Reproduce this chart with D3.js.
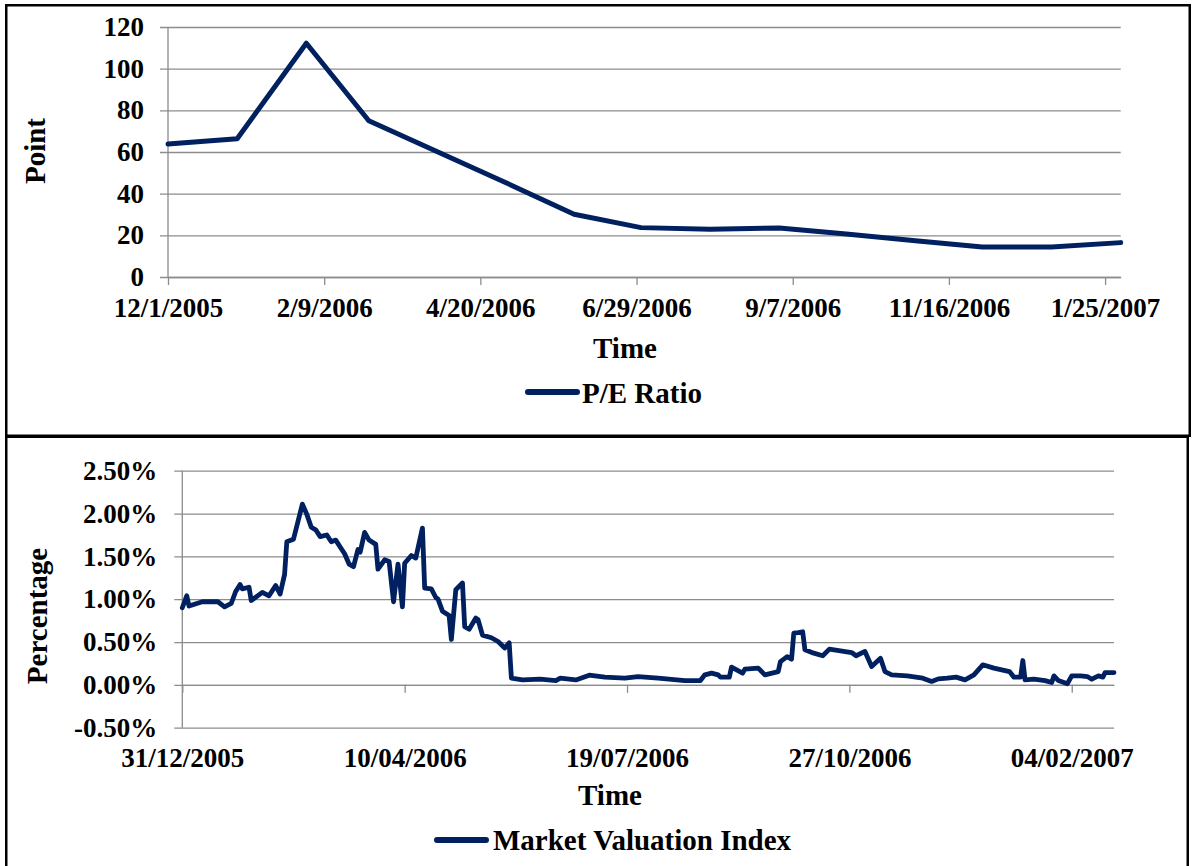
<!DOCTYPE html>
<html>
<head>
<meta charset="utf-8">
<script src="https://cdn.jsdelivr.net/npm/d3@7"></script>
<style>
  html, body { margin: 0; padding: 0; background: #fff; }
  svg { display: block; }
  text { font-family: "Liberation Serif", Tinos, "Times New Roman", Times, "DejaVu Serif", serif; font-weight: 700; fill: #000; }
</style>
</head>
<body>
<svg id="chart" width="1194" height="866"></svg>
<script>
// ---- P/E ratio, monthly ----
const peDates = ["2005-12-01","2006-01-01","2006-02-01","2006-03-01","2006-04-01","2006-05-01",
  "2006-06-01","2006-07-01","2006-08-01","2006-09-01","2006-10-01","2006-11-01","2006-12-01",
  "2007-01-01","2007-02-01"];
const peValues = [63.8, 66.4, 112.2, 75.0, 60.0, 45.5, 30.1, 23.7, 22.9, 23.5, 20.6, 17.4, 14.4, 14.4, 16.5];
const peYTicks = [0, 20, 40, 60, 80, 100, 120];
const peXTicks = ["2005-12-01","2006-02-09","2006-04-20","2006-06-29","2006-09-07","2006-11-16","2007-01-25"];
const peXLabels = ["12/1/2005","2/9/2006","4/20/2006","6/29/2006","9/7/2006","11/16/2006","1/25/2007"];

// ---- Market valuation index, daily (%) ----
const mviDates = [
  "2005-12-31","2006-01-02","2006-01-03","2006-01-09","2006-01-16","2006-01-19","2006-01-22","2006-01-24",
  "2006-01-26","2006-01-27","2006-01-30","2006-01-31",
  "2006-02-05","2006-02-08","2006-02-11","2006-02-13","2006-02-15","2006-02-16","2006-02-19","2006-02-23",
  "2006-02-25","2006-02-27",
  "2006-03-01","2006-03-03","2006-03-06","2006-03-08","2006-03-10","2006-03-12","2006-03-14","2006-03-16",
  "2006-03-18","2006-03-20","2006-03-21","2006-03-23","2006-03-25","2006-03-28","2006-03-29",
  "2006-04-01","2006-04-03","2006-04-05","2006-04-07","2006-04-09","2006-04-10","2006-04-13","2006-04-15",
  "2006-04-18","2006-04-19","2006-04-22","2006-04-24","2006-04-25","2006-04-27","2006-04-30",
  "2006-05-01","2006-05-03","2006-05-06","2006-05-07","2006-05-09","2006-05-12","2006-05-13","2006-05-15",
  "2006-05-19","2006-05-22","2006-05-25","2006-05-27","2006-05-28",
  "2006-06-02","2006-06-10","2006-06-17","2006-06-19","2006-06-26",
  "2006-07-02","2006-07-09","2006-07-18","2006-07-24",
  "2006-08-02","2006-08-14","2006-08-21","2006-08-23","2006-08-26","2006-08-29","2006-08-30",
  "2006-09-03","2006-09-04","2006-09-09","2006-09-10","2006-09-16","2006-09-19","2006-09-25","2006-09-26",
  "2006-09-29",
  "2006-10-01","2006-10-02","2006-10-04","2006-10-06","2006-10-07","2006-10-11","2006-10-15","2006-10-18",
  "2006-10-28","2006-10-30",
  "2006-11-03","2006-11-06","2006-11-10","2006-11-12","2006-11-15","2006-11-22","2006-11-29",
  "2006-12-03","2006-12-06","2006-12-10","2006-12-14","2006-12-18","2006-12-22","2006-12-26","2006-12-31",
  "2007-01-07","2007-01-09","2007-01-12","2007-01-13","2007-01-14","2007-01-18","2007-01-23","2007-01-26",
  "2007-01-27","2007-01-29",
  "2007-02-02","2007-02-04","2007-02-08","2007-02-11","2007-02-13","2007-02-16","2007-02-18","2007-02-19",
  "2007-02-23"];
const mviValues = [
  0.90, 1.04, 0.92, 0.97, 0.97, 0.91, 0.95, 1.09, 1.17, 1.12, 1.14, 0.985,
  1.08, 1.04, 1.16, 1.06, 1.29, 1.67, 1.70, 2.11, 1.99, 1.84,
  1.81, 1.73, 1.75, 1.67, 1.69, 1.61, 1.53, 1.41, 1.38, 1.58, 1.55, 1.78, 1.69, 1.64, 1.35,
  1.46, 1.44, 0.97, 1.41, 0.91, 1.42, 1.51, 1.48, 1.83, 1.13, 1.12, 1.02, 1.00, 0.86, 0.81,
  0.53, 1.11, 1.19, 0.68, 0.65, 0.78, 0.76, 0.58, 0.55, 0.506, 0.43, 0.49, 0.078,
  0.058, 0.066, 0.05, 0.078, 0.058,
  0.113, 0.09, 0.078, 0.097,
  0.078, 0.05, 0.05, 0.117, 0.137, 0.117, 0.09,
  0.09, 0.207, 0.137, 0.183, 0.195, 0.117, 0.155, 0.272, 0.33,
  0.30, 0.604, 0.61, 0.62, 0.41, 0.37, 0.34, 0.417, 0.377, 0.34,
  0.39, 0.214, 0.31, 0.155, 0.117, 0.105, 0.078,
  0.04, 0.07, 0.078, 0.09, 0.058, 0.117, 0.234, 0.195,
  0.155, 0.09, 0.09, 0.284, 0.058, 0.066, 0.05, 0.027, 0.105, 0.05,
  0.012, 0.105, 0.105, 0.097, 0.066, 0.105, 0.09, 0.144, 0.144];
const mviYTicks = [-0.5, 0, 0.5, 1.0, 1.5, 2.0, 2.5];
const mviXTicks = ["2005-12-31","2006-04-10","2006-07-19","2006-10-27","2007-02-04"];
const mviXLabels = ["31/12/2005","10/04/2006","19/07/2006","27/10/2006","04/02/2007"];

const parse = d3.utcParse("%Y-%m-%d");
const NAVY = "#002060";
const GRID = "#8c8c8c";
const TICK_FONT = 27;
const TITLE_FONT = 29;

const svg = d3.select("#chart");

// panel frames
svg.append("rect").attr("x", 6.25).attr("y", 5.25).attr("width", 1183.5).attr("height", 430.5)
  .attr("fill", "none").attr("stroke", "#000").attr("stroke-width", 2.5);
svg.append("rect").attr("x", 6.25).attr("y", 436.75).attr("width", 1181.5).attr("height", 450)
  .attr("fill", "none").attr("stroke", "#000").attr("stroke-width", 2.5);

function styleAxis(g) {
  g.attr("font-size", null).attr("font-family", null).attr("color", GRID);
  g.selectAll("line").attr("stroke-width", 1.3);
  g.selectAll("text").style("fill", "#000").style("font-size", TICK_FONT + "px");
}

function panel(cfg) {
  const { x, y, dates, values, yTicks, yFormat, yLabelPad, xTicks, xLabels, xAxisAt, xLabelPad,
          yTitle, yTitleX, yTitleY, timeX, timeY, legendText, legendX0, legendX1, legendY, legendTextX,
          legendBase, lineWidth } = cfg;
  const [x0, x1] = x.range();
  const [yb, yt] = y.range();

  // horizontal gridlines, running out past the axis as tick marks
  svg.append("g")
    .attr("transform", `translate(${x0 - 8},0)`)
    .call(d3.axisRight(y).tickValues(yTicks).tickSize(x1 - x0 + 8).tickFormat(""))
    .call(g => g.select(".domain").remove())
    .call(styleAxis);

  // y labels
  svg.append("g")
    .attr("transform", `translate(${x0},0)`)
    .call(d3.axisLeft(y).tickValues(yTicks).tickSize(0).tickPadding(yLabelPad).tickFormat(yFormat))
    .call(g => g.select(".domain").remove())
    .call(styleAxis);

  // vertical axis line
  svg.append("line").attr("x1", x0).attr("x2", x0).attr("y1", yt).attr("y2", yb)
    .attr("stroke", GRID).attr("stroke-width", 1.3);

  // category axis
  svg.append("g")
    .attr("transform", `translate(0,${y(xAxisAt)})`)
    .call(d3.axisBottom(x).tickValues(xTicks.map(parse)).tickSize(8).tickSizeOuter(0)
      .tickPadding(xLabelPad).tickFormat((d, i) => xLabels[i]))
    .call(styleAxis)
    .call(g => g.select(".domain").attr("stroke-width", 1.3));

  // series
  const line = d3.line().x((d, i) => x(parse(dates[i]))).y(d => y(d));
  svg.append("path").datum(values)
    .attr("d", line)
    .attr("fill", "none").attr("stroke", NAVY).attr("stroke-width", lineWidth)
    .attr("stroke-linejoin", "round").attr("stroke-linecap", "round");

  // titles
  svg.append("text").attr("transform", `translate(${yTitleX},${yTitleY}) rotate(-90)`)
    .attr("text-anchor", "middle").style("font-size", TITLE_FONT + "px").text(yTitle);
  svg.append("text").attr("x", timeX).attr("y", timeY)
    .attr("text-anchor", "middle").style("font-size", TITLE_FONT + "px").text("Time");

  // legend
  svg.append("line").attr("x1", legendX0).attr("x2", legendX1).attr("y1", legendY).attr("y2", legendY)
    .attr("stroke", NAVY).attr("stroke-width", 6).attr("stroke-linecap", "round");
  svg.append("text").attr("x", legendTextX).attr("y", legendBase)
    .style("font-size", TITLE_FONT + "px").text(legendText);
}

// top panel: P/E ratio
panel({
  x: d3.scaleUtc().domain([parse(peDates[0]), parse(peDates[peDates.length - 1])]).range([168, 1120.7]),
  y: d3.scaleLinear().domain([0, 120]).range([277, 27]),
  dates: peDates, values: peValues, yTicks: peYTicks, yFormat: d => String(d), yLabelPad: 24,
  xTicks: peXTicks, xLabels: peXLabels, xAxisAt: 0, xLabelPad: 12.8,
  yTitle: "Point", yTitleX: 45, yTitleY: 151,
  timeX: 625, timeY: 358,
  legendText: "P/E Ratio", legendX0: 528, legendX1: 577, legendY: 392, legendTextX: 582, legendBase: 403,
  lineWidth: 5
});

// bottom panel: market valuation index
panel({
  x: d3.scaleUtc().domain([parse(mviDates[0]), parse(mviDates[mviDates.length - 1])]).range([182.3, 1114]),
  y: d3.scaleLinear().domain([-0.5, 2.5]).range([727.7, 470.7]),
  dates: mviDates, values: mviValues, yTicks: mviYTicks, yFormat: d => d.toFixed(2) + "%", yLabelPad: 25,
  xTicks: mviXTicks, xLabels: mviXLabels, xAxisAt: 0, xLabelPad: 55.1,
  yTitle: "Percentage", yTitleX: 47, yTitleY: 616,
  timeX: 610, timeY: 805,
  legendText: "Market Valuation Index", legendX0: 437, legendX1: 486, legendY: 840, legendTextX: 493, legendBase: 850,
  lineWidth: 4.8
});
</script>
</body>
</html>
